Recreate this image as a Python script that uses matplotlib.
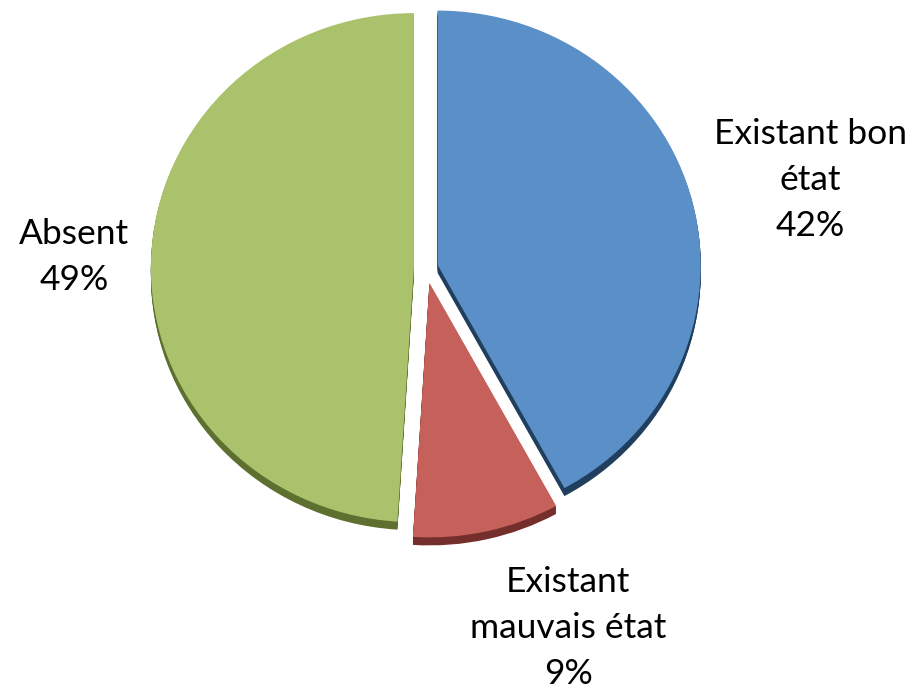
import matplotlib
matplotlib.use("Agg")
import matplotlib.pyplot as plt
from matplotlib.patches import Wedge
from matplotlib.transforms import Affine2D

# parts of the total, clockwise from 12 o'clock
names = ["Existant bon\nétat", "Existant\nmauvais état", "Absent"]
values = [42, 9, 49]
colors = ["#5B8FC7", "#C6605A", "#AAC26B"]
rim_colors = ["#203F5E", "#742E2B", "#5E702F"]
explode = [0.046, 0.060, 0.046]

# label placement (x centre, first baseline; pixel units, y downward)
label_pos = [(810, 144), (568, 592), (74, 244)]
line_pitch = 46

W, H = 915, 687
fig = plt.figure(figsize=(W / 100, H / 100), dpi=100)
ax = fig.add_axes([0, 0, 1, 1])

wedges, _ = ax.pie(values, startangle=90, counterclock=False,
                   explode=explode, colors=colors, radius=1,
                   wedgeprops=dict(linewidth=0))

ax.set_xlim(0, W)
ax.set_ylim(0, H)
ax.set_aspect("auto")
ax.axis("off")

# slightly tilted disc: squash vertically, move to its place on the canvas
disc = Affine2D().scale(263, 254.5).translate(426, H - 268)

depth = 8
for w, rc in zip(wedges, rim_colors):
    w.set_transform(disc + ax.transData)
    w.set_zorder(3)
    # side of the slice, stacked copies pushed downward
    for k in range(1, depth + 1):
        side = Wedge(w.center, w.r, w.theta1, w.theta2,
                     facecolor=rc, linewidth=0, zorder=2)
        side.set_transform(disc + Affine2D().translate(0, -k) + ax.transData)
        ax.add_patch(side)

for name, v, (x, y) in zip(names, values, label_pos):
    lines = name.split("\n") + [f"{v}%"]
    for i, line in enumerate(lines):
        ax.text(x, H - (y + i * line_pitch), line, ha="center", va="baseline",
                fontsize=25.5, family="Lato", color="black")

fig.savefig("out.png", dpi=100)
